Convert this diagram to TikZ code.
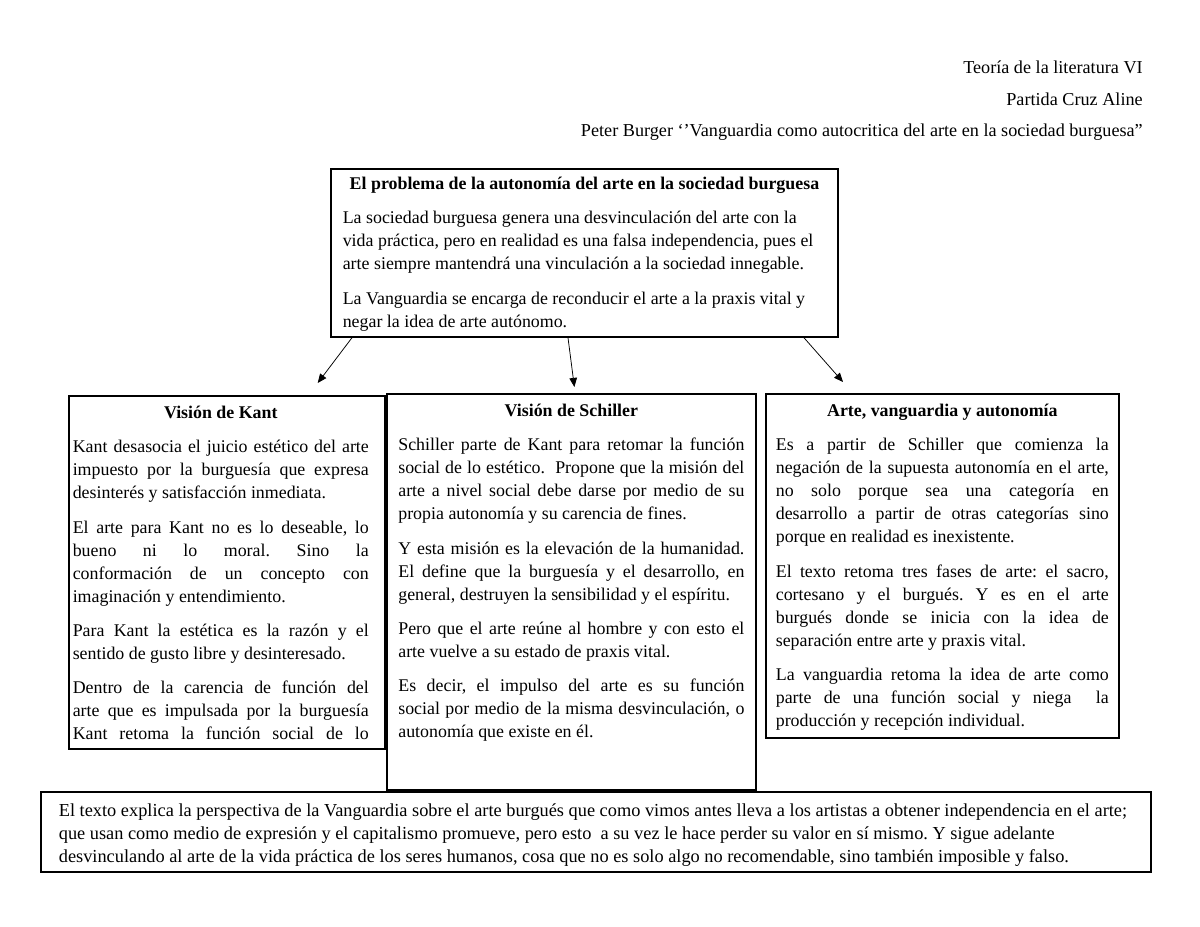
\documentclass[tikz,border=0pt]{standalone}
\usepackage{fontspec}
\setmainfont{Liberation Serif}
\usetikzlibrary{positioning,calc,arrows.meta}
\newcommand{\panelfont}{\fontsize{11.8pt}{15.2pt}\selectfont\setlength{\parskip}{7.4pt}\setlength{\parindent}{0pt}\frenchspacing\hyphenpenalty=10000\tolerance=10000}
\newcommand{\panel}[6][]{\node [panel,#1] (#2) at (#3) {\begin{minipage}[t][#5][t]{#4}\panelfont #6\end{minipage}}}
\tikzset{
  panel/.style={draw, line width=1.1pt, anchor=north west, inner ysep=6.8pt},
  hdr/.style={anchor=base east, inner sep=0pt, font=\fontsize{12pt}{15.2pt}\selectfont},
  arr/.style={-{Triangle[length=6pt,width=5pt]}, line width=0.5pt}
}

\begin{document}
\begin{tikzpicture}[x=0.66pt,y=-0.66pt]
\useasboundingbox (0,0) rectangle (1200,927);

\node [hdr] (course) at (1143,73.5) {Teoría de la literatura VI};
\node [hdr] (student) at (1143,105.5) {Partida Cruz Aline};
\node [hdr] (source) at (1143,136.5) {Peter Burger ‘’Vanguardia como autocritica del arte en la sociedad burguesa”};

\panel[inner xsep=7.9pt, inner ysep=5.5pt]{problem}{330,168}{319pt}{99.9pt}{\raggedright
{\centering\textbf{El problema de la autonomía del arte en la sociedad burguesa}\par}
La sociedad burguesa genera una desvinculación del arte con la\\
vida práctica, pero en realidad es una falsa independencia, pues el\\
arte siempre mantendrá una vinculación a la sociedad innegable.\par
La Vanguardia se encarga de reconducir el arte a la praxis vital y\\
negar la idea de arte autónomo.};

\panel[inner xsep=2.6pt]{kant}{68,395}{203.4pt}{219.4pt}{
{\centering\textbf{Visión de Kant}\hspace*{8pt}\par}
\rightskip=8pt\relax
Kant desasocia el juicio estético del arte\linebreak
impuesto por la burguesía que expresa\linebreak
desinterés y satisfacción inmediata.\par
El arte para Kant no es lo deseable, lo\linebreak
bueno ni lo moral. Sino la\linebreak
conformación de un concepto con\linebreak
imaginación y entendimiento.\par
Para Kant la estética es la razón y el\linebreak
sentido de gusto libre y desinteresado.\par
Dentro de la carencia de función del\linebreak
arte que es impulsada por la burguesía\linebreak
Kant retoma la función social de lo{\parfillskip=0pt\par}};

\panel[inner xsep=7.6pt]{schiller}{386,393}{228.4pt}{247.8pt}{
{\centering\textbf{Visión de Schiller}\par}
Schiller parte de Kant para retomar la función\linebreak
social de lo estético.\ \ Propone que la misión del\linebreak
arte a nivel social debe darse por medio de su\linebreak
propia autonomía y su carencia de fines.\par
Y esta misión es la elevación de la humanidad.\linebreak
El define que la burguesía y el desarrollo, en\linebreak
general, destruyen la sensibilidad y el espíritu.\par
Pero que el arte reúne al hombre y con esto el\linebreak
arte vuelve a su estado de praxis vital.\par
Es decir, el impulso del arte es su función\linebreak
social por medio de la misma desvinculación, o\linebreak
autonomía que existe en él.};

\panel[inner xsep=6.6pt]{arte}{765,393}{219.8pt}{213.4pt}{
{\centering\textbf{Arte, vanguardia y autonomía}\par}
Es a partir de Schiller que comienza la\linebreak
negación de la supuesta autonomía en el arte,\linebreak
no solo porque sea una categoría en\linebreak
desarrollo a partir de otras categorías sino\linebreak
porque en realidad es inexistente.\par
El texto retoma tres fases de arte: el sacro,\linebreak
cortesano y el burgués. Y es en el arte\linebreak
burgués donde se inicia con la idea de\linebreak
separación entre arte y praxis vital.\par
La vanguardia retoma la idea de arte como\linebreak
parte de una función social y niega\ \ la\linebreak
producción y recepción individual.};

\panel[inner xsep=11.9pt, inner ysep=8pt]{summary}{40,791}{708.8pt}{36.8pt}{\raggedright\fontsize{12.1pt}{15.2pt}\selectfont
El texto explica la perspectiva de la Vanguardia sobre el arte burgués que como vimos antes lleva a los artistas a obtener independencia en el arte;\\
que usan como medio de expresión y el capitalismo promueve, pero esto\ \ a su vez le hace perder su valor en sí mismo. Y sigue adelante\\
desvinculando al arte de la vida práctica de los seres humanos, cosa que no es solo algo no recomendable, sino también imposible y falso.};

\draw [arr] ($(problem.south west)+(22,0)$) -- ($(kant.north east)+(-68,-12)$);
\draw [arr] ($(problem.south west)+(238,0)$) -- ($(schiller.north)+(3,-6)$);
\draw [arr] ($(problem.south east)+(-35,0)$) -- ($(arte.north west)+(78,-11)$);

\end{tikzpicture}
\end{document}
